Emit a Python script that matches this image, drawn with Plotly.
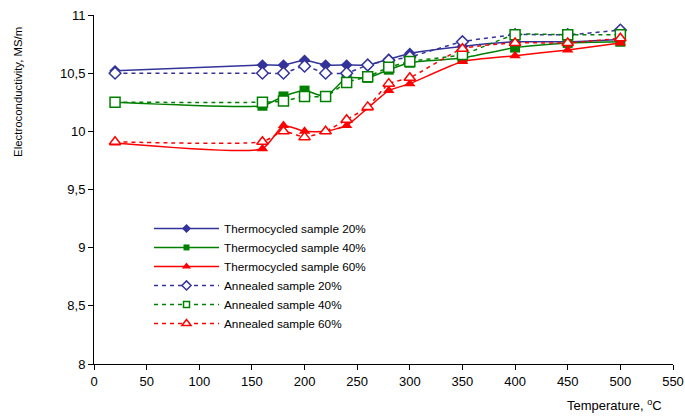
import plotly.graph_objects as go

temps = [20, 160, 180, 200, 220, 240, 260, 280, 300, 350, 400, 450, 500]

thermo_20 = [10.52, 10.57, 10.57, 10.61, 10.57, 10.57, 10.57, 10.62, 10.67, 10.73, 10.77, 10.77, 10.79]
thermo_40 = [10.25, 10.22, 10.30, 10.35, 10.30, 10.46, 10.46, 10.53, 10.59, 10.63, 10.72, 10.76, 10.77]
thermo_60 = [9.90, 9.85, 10.05, 10.00, 10.00, 10.05, 10.20, 10.35, 10.41, 10.60, 10.65, 10.70, 10.76]

anneal_20 = [10.50, 10.50, 10.50, 10.56, 10.50, 10.50, 10.57, 10.61, 10.64, 10.77, 10.83, 10.83, 10.87]
anneal_40 = [10.25, 10.25, 10.26, 10.30, 10.30, 10.42, 10.47, 10.55, 10.60, 10.66, 10.83, 10.83, 10.83]
anneal_60 = [9.91, 9.91, 10.00, 9.95, 10.00, 10.10, 10.21, 10.41, 10.46, 10.71, 10.76, 10.76, 10.80]

names = ["Thermocycled sample 20%", "Thermocycled sample 40%", "Thermocycled sample 60%",
         "Annealed sample 20%", "Annealed sample 40%", "Annealed sample 60%"]

x_ticks = [0, 50, 100, 150, 200, 250, 300, 350, 400, 450, 500, 550]
y_ticks = [8, 8.5, 9, 9.5, 10, 10.5, 11]
y_tick_text = ["8", "8,5", "9", "9,5", "10", "10,5", "11"]

BLUE = "#333399"
GREEN = "#008000"
RED = "#ff0000"

series = [
    (thermo_20, BLUE, "diamond", True, "solid", 9),
    (thermo_40, GREEN, "square", True, "solid", 10),
    (thermo_60, RED, "triangle-up", True, "solid", 10),
    (anneal_20, BLUE, "diamond", False, "dash", 9),
    (anneal_40, GREEN, "square", False, "dash", 10),
    (anneal_60, RED, "triangle-up", False, "dash", 10),
]

legend_sizes = {"diamond": 7, "square": 6, "triangle-up": 8}

fig = go.Figure()
for (vals, col, sym, filled, dash, size), name in zip(series, names):
    marker = dict(symbol=sym, size=size, color=col if filled else "white",
                  line=dict(color=col, width=0 if filled else 1.5))
    dash_style = "solid" if dash == "solid" else "4px,4px"
    fig.add_trace(go.Scatter(
        x=temps, y=vals, mode="lines+markers", name=name, showlegend=False,
        line=dict(color=col, width=1.5, dash=dash_style, shape="spline", smoothing=0.5),
        marker=marker))
for (vals, col, sym, filled, dash, size), name in zip(series, names):
    lsz = legend_sizes[sym]
    marker = dict(symbol=sym, size=lsz, color=col if filled else "white",
                  line=dict(color=col, width=0 if filled else 1.5))
    dash_style = "solid" if dash == "solid" else "4px,4px"
    fig.add_trace(go.Scatter(
        x=[None], y=[None], mode="lines+markers", name=name, showlegend=True,
        line=dict(color=col, width=1.5, dash=dash_style), marker=marker))

fig.update_layout(
    width=685, height=416,
    margin=dict(l=94, r=12, t=15, b=52, autoexpand=False),
    paper_bgcolor="white", plot_bgcolor="white",
    font=dict(family="Liberation Sans, Arial", size=13, color="black"),
    showlegend=True,
    legend=dict(x=0.095, y=0.43, xanchor="left", yanchor="top",
                bgcolor="rgba(0,0,0,0)", font=dict(size=11.75, color="black"),
                itemwidth=65, tracegroupgap=0),
    xaxis=dict(range=[0, 550], tickvals=x_ticks, ticks="outside", ticklen=5,
               tickcolor="black", showline=True, linecolor="black", linewidth=1,
               showgrid=False, zeroline=False, automargin=False,
               ticklabeloverflow="allow"),
    yaxis=dict(range=[8, 11], tickvals=y_ticks, ticktext=y_tick_text, ticks="outside",
               ticklen=5, tickcolor="black", showline=True, linecolor="black",
               linewidth=1, showgrid=False, zeroline=False, automargin=False,
               ticklabeloverflow="allow"),
    annotations=[
        dict(text="Electroconductivity, MS/m", xref="paper", yref="paper",
             x=-0.131, y=0.78, xanchor="center", yanchor="middle", textangle=-90,
             showarrow=False, font=dict(size=11.4)),
        dict(text="Temperature, <sup>o</sup>C", xref="paper", yref="paper",
             x=0.984, y=-0.09, xanchor="right", yanchor="top",
             showarrow=False, font=dict(size=13)),
    ],
)

fig.write_html(
    "out.html",
    config={"displayModeBar": False},
    post_script="document.body.style.margin='0';document.body.style.overflow='hidden';",
)
